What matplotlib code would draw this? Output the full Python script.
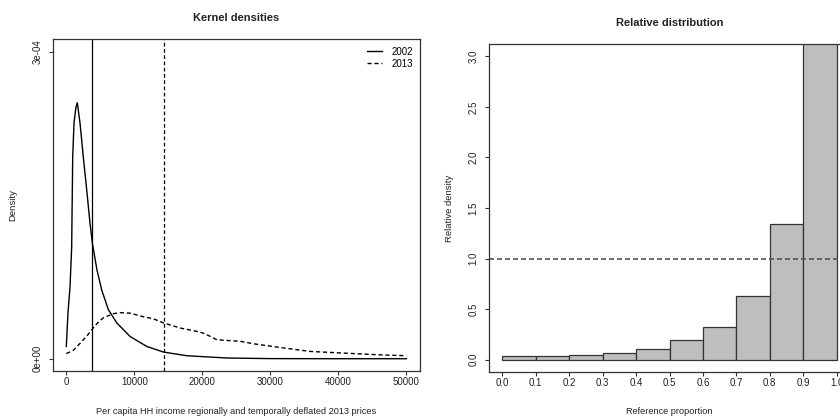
import numpy as np
import matplotlib
matplotlib.use("Agg")
import matplotlib.pyplot as plt

plt.rcParams["font.family"] = ["Liberation Sans", "DejaVu Sans"]

# Kernel density estimates of per capita household income (density in 1e-4 units)
income_2002 = [0, 250, 545, 790, 840, 940, 1130, 1400, 1620, 2020, 2500, 3000, 3490, 3830,
               4500, 5210, 6180, 7420, 9380, 11830, 14280, 17720, 23600, 30000, 40000, 50000]
density_2002 = [0.12, 0.45, 0.70, 1.09, 1.39, 1.97, 2.30, 2.45, 2.50, 2.30, 1.97, 1.65, 1.32,
                1.13, 0.87, 0.67, 0.48, 0.35, 0.217, 0.12, 0.065, 0.029, 0.007, 0.001, 0.0, 0.0]

income_2013 = [0, 1000, 2020, 3000, 3830, 4600, 5450, 6920, 8000, 9380, 11330, 12800,
               14280, 16740, 19680, 20500, 22140, 25570, 27530, 30970, 35870, 40770,
               45690, 50000]
density_2013 = [0.05, 0.08, 0.15, 0.22, 0.29, 0.35, 0.40, 0.44, 0.45, 0.445, 0.41, 0.39,
                0.35, 0.30, 0.26, 0.24, 0.185, 0.17, 0.146, 0.114, 0.071, 0.055,
                0.039, 0.029]

# Median incomes marked as vertical lines
median_2002 = 3830
median_2013 = 14430

# Relative distribution histogram (decile bins of the reference proportion)
bin_edges = [0.0, 0.1, 0.2, 0.3, 0.4, 0.5, 0.6, 0.7, 0.8, 0.9, 1.0]
rel_density = [0.035, 0.035, 0.045, 0.07, 0.10, 0.195, 0.326, 0.63, 1.345, 7.22]

W, H = 840, 418
fig = plt.figure(figsize=(W / 100, H / 100), dpi=100)


def px_axes(left, top, right, bottom):
    return fig.add_axes([left / W, 1 - bottom / H, (right - left) / W, (bottom - top) / H])


def style_axes(ax):
    for sp in ax.spines.values():
        sp.set_color("#333333")
        sp.set_linewidth(0.9)
    ax.tick_params(axis="both", direction="out", length=3, width=0.8,
                   color="#333333", labelsize=7, labelcolor="#222222")
    ax.tick_params(axis="x", pad=1.5)
    ax.tick_params(axis="y", pad=4.5)
    for lab in ax.get_yticklabels():
        lab.set_rotation(90)
        lab.set_va("center")


# Kernel densities
ax1 = px_axes(52.7, 39.3, 420, 371)
ax1.plot(income_2002, np.array(density_2002) * 1e-4, color="black", lw=1.0, label="2002")
ax1.plot(income_2013, np.array(density_2013) * 1e-4, color="black", lw=1.0,
         linestyle=(0, (3, 2)), label="2013")
ax1.axvline(median_2002, color="black", lw=0.9)
ax1.axvline(median_2013, color="black", lw=0.9, linestyle=(0, (3, 2)))
ax1.set_xlim(-2000, 52000)
ax1.set_ylim(-0.12e-4, 3.12e-4)
ax1.set_xticks(range(0, 50001, 10000))
ax1.set_yticks([0, 3e-4])
ax1.set_yticklabels(["0e+00", "3e-04"])
style_axes(ax1)
ax1.set_title("Kernel densities", fontsize=8, fontweight="bold", pad=13.5, color="#222222")
ax1.set_xlabel("Per capita HH income regionally and temporally deflated 2013 prices",
               fontsize=6.6, color="#222222")
ax1.set_ylabel("Density", fontsize=6.8, color="#222222")
ax1.xaxis.set_label_coords(0.5, -0.11)
ax1.yaxis.set_label_coords(-0.096, 0.5)
ax1.legend(loc="upper right", frameon=False, fontsize=7, handlelength=1.6,
           handletextpad=0.9, labelspacing=0.2, borderaxespad=0.35)

# Relative distribution
ax2 = px_axes(489, 44.3, 850, 371.7)
ax2.bar(bin_edges[:-1], rel_density, width=np.diff(bin_edges), align="edge",
        color="#bebebe", edgecolor="#333333", linewidth=0.9)
ax2.axhline(1.0, color="#555555", lw=1.2, linestyle=(0, (3, 1.8)))
ax2.set_xlim(-0.04, 1.04)
ax2.set_ylim(-0.12, 3.12)
ax2.set_xticks(np.arange(0, 1.01, 0.1))
ax2.set_xticklabels([f"{v:.1f}" for v in np.arange(0, 1.01, 0.1)])
ax2.set_yticks(np.arange(0, 3.01, 0.5))
ax2.set_yticklabels([f"{v:.1f}" for v in np.arange(0, 3.01, 0.5)])
style_axes(ax2)
ax2.set_title("Relative distribution", fontsize=8, fontweight="bold", pad=13.5, color="#222222")
ax2.set_xlabel("Reference proportion", fontsize=6.6, color="#222222")
ax2.set_ylabel("Relative density", fontsize=6.8, color="#222222")
ax2.xaxis.set_label_coords(0.5, -0.109)
ax2.yaxis.set_label_coords(-0.096, 0.5)

fig.savefig("out.png", dpi=100)
